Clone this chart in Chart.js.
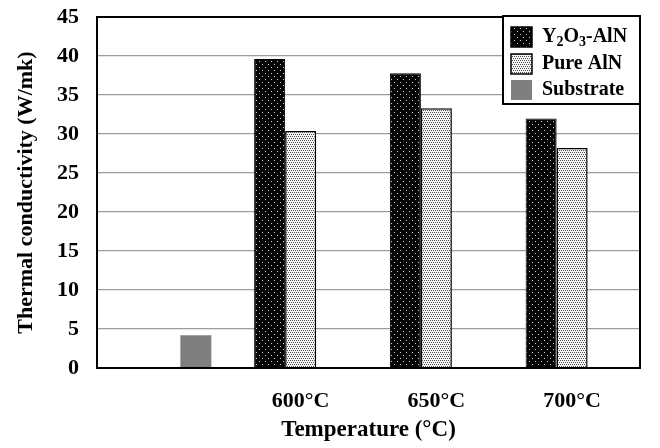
<!DOCTYPE html>
<html lang="en">
<head>
<meta charset="UTF-8">
<script src="https://cdn.jsdelivr.net/npm/chart.js"></script>
<title>Thermal conductivity</title>
<style>
  html, body { margin: 0; padding: 0; background: #fff; }
  #wrap { width: 660px; height: 448px; }
</style>
</head>
<body>
<div id="wrap"><canvas id="grafico" width="660" height="448"></canvas></div>

<script>
// data
const categorias = ['', '600°C', '650°C', '700°C'];
const y2o3AlN   = [null, 39.6, 37.8, 32.0];
const pureAlN   = [null, 30.4, 33.3, 28.2];
const substrato = [4.2, null, null, null];
const yTicks = [0, 5, 10, 15, 20, 25, 30, 35, 40, 45];

const serif = '"Liberation Serif", "Times New Roman", serif';

// dotted fills like the original
function padrao(fundo, ponto, tam, pontos) {
  const c = document.createElement('canvas');
  c.width = tam; c.height = tam;
  const g = c.getContext('2d');
  g.fillStyle = fundo;
  g.fillRect(0, 0, tam, tam);
  g.fillStyle = ponto;
  pontos.forEach(p => g.fillRect(p[0], p[1], 1, 1));
  return g.createPattern(c, 'repeat');
}
const ctxTmp = document.getElementById('grafico').getContext('2d');
const fillY2O3 = padrao('#050505', '#cfcfcf', 6, [[1, 1], [4, 4]]);
const fillPure = padrao('#f6f6f6', '#4a4a4a', 4, [[0, 0], [2, 0], [1, 2], [3, 2]]);
const fillSub = '#7f7f7f';

// frame around the plot area
const moldura = {
  id: 'moldura',
  afterDraw(chart) {
    const a = chart.chartArea, c = chart.ctx;
    c.save();
    c.strokeStyle = '#000';
    c.lineWidth = 2;
    c.strokeRect(a.left, a.top, a.right - a.left, a.bottom - a.top);
    c.restore();
  }
};

// legend box with subscripts
const legenda = {
  id: 'legenda',
  afterDraw(chart) {
    const a = chart.chartArea, c = chart.ctx;
    const x0 = a.right - 137, y0 = a.top - 1, w = 137, h = 88;
    c.save();
    c.fillStyle = '#fff';
    c.fillRect(x0, y0, w, h);
    c.strokeStyle = '#000';
    c.lineWidth = 2;
    c.strokeRect(x0, y0, w, h);

    const itens = [
      { fill: fillY2O3, borda: '#000', partes: [['Y', 0], ['2', 1], ['O', 0], ['3', 1], ['-AlN', 0]] },
      { fill: fillPure, borda: '#000', partes: [['Pure AlN', 0]] },
      { fill: fillSub, borda: null, partes: [['Substrate', 0]] }
    ];
    const linhas = [y0 + 21, y0 + 48, y0 + 74];
    itens.forEach((it, i) => {
      const cy = linhas[i];
      c.fillStyle = it.fill;
      c.fillRect(x0 + 8, cy - 10, 21, 20);
      if (it.borda) {
        c.strokeStyle = it.borda;
        c.lineWidth = 1.5;
        c.strokeRect(x0 + 8, cy - 10, 21, 20);
      }
      let x = x0 + 39;
      c.fillStyle = '#000';
      c.textBaseline = 'middle';
      c.textAlign = 'left';
      it.partes.forEach(p => {
        if (p[1]) {
          c.font = 'bold 14px ' + serif;
          c.fillText(p[0], x, cy + 5);
        } else {
          c.font = 'bold 20px ' + serif;
          c.fillText(p[0], x, cy);
        }
        x += c.measureText(p[0]).width;
      });
    });
    c.restore();
  }
};

new Chart(ctxTmp, {
  type: 'bar',
  data: {
    labels: categorias,
    datasets: [
      { label: 'Y2O3-AlN', data: y2o3AlN, backgroundColor: fillY2O3, borderColor: '#000', borderWidth: 1 },
      { label: 'Pure AlN', data: pureAlN, backgroundColor: fillPure, borderColor: '#000', borderWidth: 1.5 },
      { label: 'Substrate', data: substrato, backgroundColor: fillSub, borderWidth: 0 }
    ]
  },
  options: {
    responsive: false,
    animation: false,
    layout: { padding: { top: 17, right: 20, left: 0, bottom: 0 } },
    datasets: { bar: { categoryPercentage: 0.685, barPercentage: 1.0 } },
    scales: {
      x: {
        grid: { display: false },
        border: { display: false },
        ticks: { color: '#000', font: { family: serif, size: 22, weight: 'bold' }, padding: 12 },
        title: { display: true, text: 'Temperature (°C)', color: '#000', font: { family: serif, size: 23, weight: 'bold' }, padding: { top: 12 } },
        afterFit(s) { s.height = 80; }
      },
      y: {
        min: 0,
        max: 45,
        afterBuildTicks(s) { s.ticks = yTicks.map(v => ({ value: v })); },
        grid: { color: '#9c9c9c', lineWidth: 1.3, drawTicks: false },
        border: { display: false },
        ticks: { color: '#000', font: { family: serif, size: 22, weight: 'bold' }, padding: 18 },
        title: { display: true, text: 'Thermal conductivity (W/mk)', color: '#000', font: { family: serif, size: 22, weight: 'bold' }, padding: { top: 13, bottom: 4 } },
        afterFit(s) { s.width = 97; s.paddingTop = 0; }
      }
    },
    plugins: {
      legend: { display: false },
      tooltip: { enabled: false }
    }
  },
  plugins: [moldura, legenda]
});
</script>
</body>
</html>
